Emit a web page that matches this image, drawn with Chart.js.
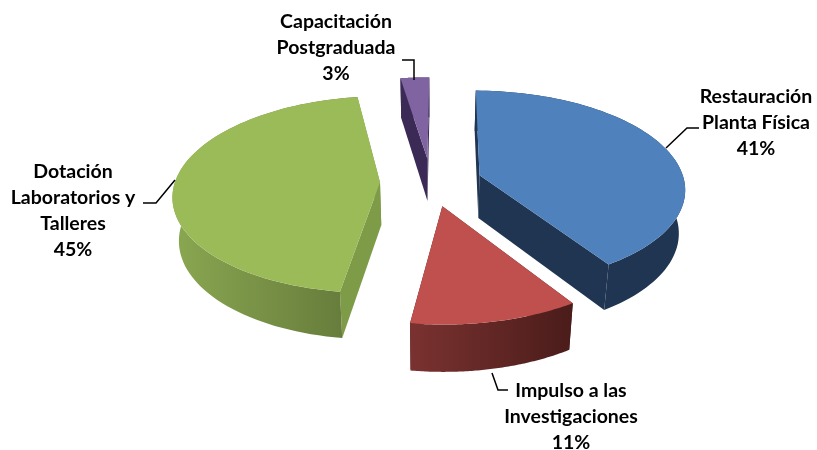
<!DOCTYPE html>
<html>
<head>
<meta charset="utf-8">
<style>
  html, body { margin: 0; background: #fff; }
  canvas { display: block; }
</style>
<script src="https://cdn.jsdelivr.net/npm/chart.js@4"></script>
</head>
<body>
<canvas id="chart" width="817" height="450"></canvas>
<script>
const labelLines = [
  ["Restauración", "Planta Física"],
  ["Impulso a las", "Investigaciones"],
  ["Dotación", "Laboratorios y", "Talleres"],
  ["Capacitación", "Postgraduada"],
];
// slice sizes, they round to the printed 41 / 11 / 45 / 3
const values = [40.7, 11.4, 45.3, 2.6];

const topColors = ["#4f81bd", "#c0504d", "#9bbb59", "#8064a2"];
const wallLeft = ["#1f3552", "#7a3230", "#8aa751", "#3b2a55"];
const wallRight = ["#1f3552", "#4a1c1a", "#64793a", "#3b2a55"];
const cutColors = ["#1f3552", "#4a1c1a", "#7e9b47", "#3b2a55"];

// 3d look, the flat pie from chart.js gets projected with these
const squash = 0.4725;
const perspective = 0.125;
const depth = 43;
const bottomScale = 0.975;
const drawOrder = [3, 0, 2, 1];

const labelX = [756, 571, 73, 336];
const labelY = [97, 391, 172, 22];
const lineHeight = 26;
const leaders = [
  [[666, 148], [687, 128], [699, 128]],
  [[492, 373], [498, 390], [508, 390]],
  [[175, 180], [156, 203], [143, 203]],
  [[414, 80], [414, 60], [402, 60]],
];

function project(arc, angle, radius, bottom) {
  const mid = (arc.startAngle + arc.endAngle) / 2;
  const off = arc.options.offset;
  const px = radius * Math.cos(angle) + off * Math.cos(mid);
  const py = radius * Math.sin(angle) + off * Math.sin(mid);
  const f = 1 / (1 - (perspective * py) / arc.outerRadius);
  const s = bottom ? bottomScale : 1;
  return {
    x: arc.x + px * f * s,
    y: arc.y + py * squash * f * s + (bottom ? depth * f : 0),
  };
}

function rimPoints(arc, bottom) {
  const pts = [];
  const steps = 80;
  for (let i = 0; i <= steps; i++) {
    const a = arc.startAngle + ((arc.endAngle - arc.startAngle) * i) / steps;
    pts.push(project(arc, a, arc.outerRadius, bottom));
  }
  return pts;
}

function fillPoly(ctx, pts, fill) {
  ctx.beginPath();
  pts.forEach((p, i) => (i ? ctx.lineTo(p.x, p.y) : ctx.moveTo(p.x, p.y)));
  ctx.closePath();
  ctx.fillStyle = fill;
  ctx.fill();
}

const pie3d = {
  id: "pie3d",
  beforeDatasetDraw(chart, args) {
    const ctx = chart.ctx;
    const arcs = args.meta.data;
    drawOrder.forEach((i) => {
      const arc = arcs[i];
      const top = rimPoints(arc, false);
      const bot = rimPoints(arc, true);
      const apexTop = project(arc, 0, 0, false);
      const apexBot = project(arc, 0, 0, true);

      // cut faces
      fillPoly(ctx, [apexTop, top[0], bot[0], apexBot], cutColors[i]);
      fillPoly(ctx, [apexTop, top[top.length - 1], bot[bot.length - 1], apexBot], cutColors[i]);

      // outer wall
      const xs = top.map((p) => p.x);
      const grad = ctx.createLinearGradient(Math.min(...xs), 0, Math.max(...xs), 0);
      grad.addColorStop(0, wallLeft[i]);
      grad.addColorStop(1, wallRight[i]);
      fillPoly(ctx, top.concat(bot.slice().reverse()), grad);

      // top face
      fillPoly(ctx, [apexTop].concat(top), arc.options.backgroundColor);
    });
    return false;
  },
  afterDraw(chart) {
    const ctx = chart.ctx;
    ctx.save();
    ctx.strokeStyle = "#000";
    ctx.lineWidth = 1.5;
    leaders.forEach((line) => {
      ctx.beginPath();
      line.forEach((p, i) => (i ? ctx.lineTo(p[0], p[1]) : ctx.moveTo(p[0], p[1])));
      ctx.stroke();
    });
    ctx.fillStyle = "#000";
    ctx.font = "bold 19.5px Lato";
    ctx.textAlign = "center";
    ctx.textBaseline = "middle";
    const total = values.reduce((a, b) => a + b, 0);
    labelLines.forEach((lines, i) => {
      const text = lines.concat(Math.round((values[i] / total) * 100) + "%");
      text.forEach((t, n) => ctx.fillText(t, labelX[i], labelY[i] + n * lineHeight));
    });
    ctx.restore();
  },
};

new Chart(document.getElementById("chart"), {
  type: "pie",
  data: {
    labels: labelLines.map((l) => l.join(" ")),
    datasets: [
      {
        data: values,
        backgroundColor: topColors,
        borderWidth: 0,
        offset: 51,
      },
    ],
  },
  options: {
    responsive: false,
    animation: false,
    rotation: 0.5,
    radius: 205,
    layout: { padding: { left: 45, bottom: 86 } },
    plugins: { legend: { display: false }, tooltip: { enabled: false } },
  },
  plugins: [pie3d],
});
</script>
</body>
</html>
